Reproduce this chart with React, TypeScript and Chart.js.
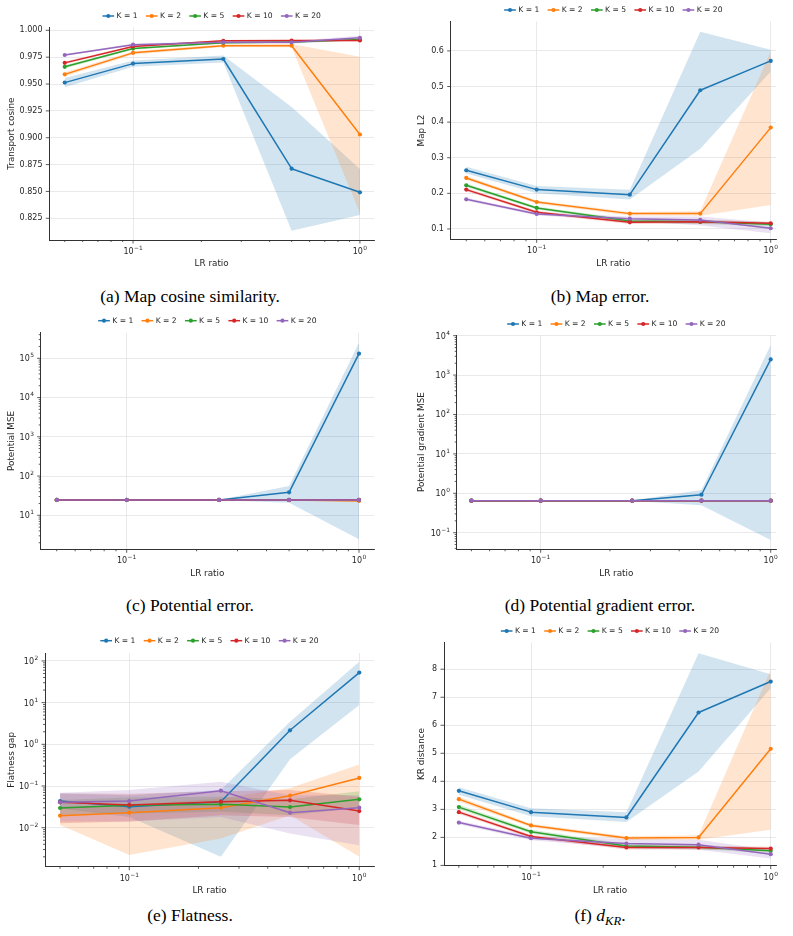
import React, { useEffect, useRef } from 'react';
import { Chart, registerables } from 'chart.js';

Chart.register(...registerables);

// ---------------------------------------------------------------------------
// Shared series definitions
// ---------------------------------------------------------------------------
const lrRatios = [0.05, 0.1, 0.25, 0.5, 1.0];
const kLabels = ['K = 1', 'K = 2', 'K = 5', 'K = 10', 'K = 20'];
const kColors = ['#1f77b4', '#ff7f0e', '#2ca02c', '#d62728', '#9467bd'];
const kBandColors = [
  'rgba(31,119,180,0.2)',
  'rgba(255,127,14,0.2)',
  'rgba(44,160,44,0.2)',
  'rgba(214,39,40,0.2)',
  'rgba(148,103,189,0.2)',
];

// x axis: decades 10^-1 and 10^0 (labels are the exponents of 10)
const xMajorTicks = [0.1, 1];
const xMajorExponents = ['\u22121', '0'];

// (a) Transport cosine
const cosineMean = [
  [0.9513, 0.969, 0.9733, 0.8712, 0.8492],
  [0.959, 0.979, 0.9857, 0.9857, 0.903],
  [0.966, 0.983, 0.9885, 0.989, 0.9915],
  [0.9697, 0.985, 0.9903, 0.9904, 0.9905],
  [0.977, 0.9866, 0.9888, 0.9888, 0.993],
];
const cosineLower = [
  [0.947, 0.966, 0.97, 0.8135, 0.828],
  [0.957, 0.9775, 0.9845, 0.9843, 0.83],
  [0.9645, 0.982, 0.9878, 0.988, 0.9905],
  [0.9685, 0.9842, 0.9896, 0.9898, 0.9895],
  [0.976, 0.9858, 0.9875, 0.9875, 0.991],
];
const cosineUpper = [
  [0.9555, 0.972, 0.9765, 0.9285, 0.871],
  [0.961, 0.9805, 0.987, 0.9872, 0.9755],
  [0.9675, 0.984, 0.9892, 0.99, 0.9925],
  [0.971, 0.9858, 0.991, 0.991, 0.9915],
  [0.978, 0.9874, 0.99, 0.99, 0.995],
];
const cosineTicks = [0.825, 0.85, 0.875, 0.9, 0.925, 0.95, 0.975, 1.0];
const cosineTickLabels = ['0.825', '0.850', '0.875', '0.900', '0.925', '0.950', '0.975', '1.000'];

// (b) Map L2
const mapL2Mean = [
  [0.2648, 0.2105, 0.1964, 0.4895, 0.5719],
  [0.2433, 0.1758, 0.1431, 0.1431, 0.3846],
  [0.2227, 0.159, 0.1225, 0.12, 0.113],
  [0.2105, 0.1468, 0.1187, 0.1206, 0.116],
  [0.1833, 0.142, 0.129, 0.1253, 0.102],
];
const mapL2Lower = [
  [0.256, 0.2, 0.183, 0.325, 0.542],
  [0.238, 0.171, 0.138, 0.137, 0.1674],
  [0.218, 0.155, 0.118, 0.114, 0.107],
  [0.206, 0.143, 0.114, 0.115, 0.112],
  [0.179, 0.138, 0.123, 0.11, 0.088],
];
const mapL2Upper = [
  [0.275, 0.221, 0.21, 0.654, 0.603],
  [0.249, 0.18, 0.148, 0.15, 0.598],
  [0.228, 0.163, 0.127, 0.126, 0.119],
  [0.215, 0.151, 0.123, 0.126, 0.12],
  [0.188, 0.146, 0.135, 0.135, 0.118],
];
const mapL2Ticks = [0.1, 0.2, 0.3, 0.4, 0.5, 0.6];
const mapL2TickLabels = ['0.1', '0.2', '0.3', '0.4', '0.5', '0.6'];

// (c) Potential MSE
const potMean = [
  [24.6, 24.6, 24.6, 38.5, 131000],
  [24.4, 24.4, 24.4, 24.4, 23.2],
  [24.6, 24.6, 24.6, 24.6, 24.6],
  [24.6, 24.6, 24.6, 24.6, 24.8],
  [24.6, 24.6, 24.6, 24.6, 24.6],
];
const potLower = [
  [24.2, 24.2, 24.2, 21.0, 2.45],
  [24.0, 24.0, 24.0, 24.0, 22.5],
  [24.1, 24.1, 24.1, 24.1, 24.0],
  [24.1, 24.1, 24.1, 24.1, 24.2],
  [24.1, 24.1, 24.1, 24.1, 24.0],
];
const potUpper = [
  [25.0, 25.0, 25.0, 55.8, 250000],
  [24.8, 24.8, 24.8, 24.8, 24.0],
  [25.1, 25.1, 25.1, 25.1, 25.2],
  [25.1, 25.1, 25.1, 25.1, 25.4],
  [25.1, 25.1, 25.1, 25.1, 25.2],
];
const potTicks = [10, 100, 1000, 10000, 100000];
const potTickExponents = ['1', '2', '3', '4', '5'];

// (d) Potential gradient MSE
const gradMean = [
  [0.649, 0.649, 0.649, 0.92, 2500],
  [0.648, 0.648, 0.648, 0.648, 0.647],
  [0.649, 0.649, 0.649, 0.649, 0.649],
  [0.649, 0.649, 0.649, 0.65, 0.65],
  [0.649, 0.649, 0.649, 0.649, 0.649],
];
const gradLower = [
  [0.64, 0.64, 0.64, 0.5, 0.065],
  [0.64, 0.64, 0.64, 0.64, 0.635],
  [0.64, 0.64, 0.64, 0.64, 0.64],
  [0.64, 0.64, 0.64, 0.64, 0.64],
  [0.64, 0.64, 0.64, 0.64, 0.64],
];
const gradUpper = [
  [0.66, 0.66, 0.66, 1.21, 5800],
  [0.657, 0.657, 0.657, 0.657, 0.66],
  [0.658, 0.658, 0.658, 0.658, 0.658],
  [0.658, 0.658, 0.658, 0.66, 0.66],
  [0.658, 0.658, 0.658, 0.658, 0.658],
];
const gradTicks = [0.1, 1, 10, 100, 1000, 10000];
const gradTickExponents = ['\u22121', '0', '1', '2', '3', '4'];

// (e) Flatness gap
const flatMean = [
  [0.0437, 0.0319, 0.042, 2.17, 52.5],
  [0.0194, 0.0229, 0.03, 0.0586, 0.156],
  [0.0297, 0.0344, 0.0363, 0.0313, 0.0479],
  [0.0406, 0.035, 0.042, 0.0453, 0.0251],
  [0.0406, 0.0437, 0.0773, 0.0229, 0.0302],
];
const flatLower = [
  [0.029, 0.018, 0.002, 0.44, 8.8],
  [0.0116, 0.0022, 0.0055, 0.02, 0.002],
  [0.02, 0.022, 0.024, 0.02, 0.03],
  [0.0127, 0.014, 0.02, 0.018, 0.0116],
  [0.014, 0.014, 0.018, 0.0073, 0.0038],
];
const flatUpper = [
  [0.066, 0.06, 0.08, 3.5, 96],
  [0.032, 0.035, 0.05, 0.09, 0.33],
  [0.046, 0.053, 0.055, 0.048, 0.075],
  [0.067, 0.065, 0.075, 0.08, 0.055],
  [0.069, 0.08, 0.127, 0.06, 0.06],
];
const flatTicks = [0.01, 0.1, 1, 10, 100];
const flatTickExponents = ['\u22122', '\u22121', '0', '1', '2'];

// (f) KR distance
const krMean = [
  [3.662, 2.901, 2.711, 6.455, 7.56],
  [3.365, 2.426, 1.974, 1.998, 5.16],
  [3.08, 2.2, 1.69, 1.65, 1.52],
  [2.9, 2.03, 1.64, 1.64, 1.6],
  [2.53, 1.97, 1.78, 1.74, 1.4],
];
const krLower = [
  [3.52, 2.75, 2.55, 4.35, 7.32],
  [3.28, 2.36, 1.91, 1.92, 2.27],
  [3.0, 2.13, 1.62, 1.58, 1.44],
  [2.83, 1.97, 1.57, 1.57, 1.53],
  [2.47, 1.9, 1.62, 1.56, 1.25],
];
const krUpper = [
  [3.79, 3.04, 2.9, 8.57, 7.82],
  [3.45, 2.49, 2.04, 2.08, 7.98],
  [3.16, 2.27, 1.76, 1.72, 1.6],
  [2.97, 2.09, 1.71, 1.71, 1.67],
  [2.59, 2.04, 1.94, 1.92, 1.55],
];
const krTicks = [1, 2, 3, 4, 5, 6, 7, 8];
const krTickLabels = ['1', '2', '3', '4', '5', '6', '7', '8'];

// ---------------------------------------------------------------------------
// Styling
// ---------------------------------------------------------------------------
const FONT = '"DejaVu Sans", sans-serif';
const TICK_SIZE = 8;
const SUP_SIZE = 5.9;
const TITLE_SIZE = 8.8;
const LEGEND_SIZE = 7.6;
const INK = '#262626';
const SPINE = '#333333';
const GRID = '#e3e3e6';
const Y_LABEL_GAP = 6.8;
const X_LABEL_CENTER = 11; // distance below the spine to the digit centre

type Box = { left: number; top: number; right: number; bottom: number };

interface PanelSpec {
  yLabel: string;
  yType: 'linear' | 'logarithmic';
  yMin: number;
  yMax: number;
  yTicks: number[];
  yTickLabels: string[]; // plain labels (linear) or exponents of 10 (log)
  xMinExp: number;
  xMaxExp: number;
  mean: number[][];
  lower: number[][];
  upper: number[][];
  area: Box;
  yTitleX: number;
  xTitleY: number;
  legendY: number;
  colRight: number;
  caption: React.ReactNode;
  captionX: number;
  captionY: number;
}

function logMinors(min: number, max: number): number[] {
  const out: number[] = [];
  for (let e = Math.floor(Math.log10(min)); e <= Math.ceil(Math.log10(max)); e++) {
    for (let m = 2; m <= 9; m++) {
      const v = m * Math.pow(10, e);
      if (v >= min && v <= max) out.push(v);
    }
  }
  return out;
}

function matches(v: number, list: number[]): number {
  return list.findIndex((m) => Math.abs(v - m) <= 1e-9 * Math.max(1e-12, Math.abs(m)));
}

const legendPlugin = {
  id: 'kLegend',
  afterDraw(chart: any, _args: any, opts: any) {
    const { ctx, chartArea } = chart;
    ctx.save();
    ctx.font = `${LEGEND_SIZE}px ${FONT}`;
    const handle = 11.7;
    const gapText = 2.4;
    const gapItem = 8.3;
    const widths = kLabels.map((l) => ctx.measureText(l).width);
    const total =
      widths.reduce((a, w) => a + handle + gapText + w, 0) + gapItem * (kLabels.length - 1);
    let x = (chartArea.left + chartArea.right) / 2 - total / 2;
    const y = opts.y;
    kLabels.forEach((label, i) => {
      ctx.strokeStyle = kColors[i];
      ctx.lineWidth = 1.5;
      ctx.beginPath();
      ctx.moveTo(x, y);
      ctx.lineTo(x + handle, y);
      ctx.stroke();
      ctx.fillStyle = kColors[i];
      ctx.beginPath();
      ctx.arc(x + handle / 2, y, 2.1, 0, Math.PI * 2);
      ctx.fill();
      ctx.fillStyle = INK;
      ctx.textAlign = 'left';
      ctx.textBaseline = 'middle';
      ctx.fillText(label, x + handle + gapText, y + 0.3);
      x += handle + gapText + widths[i] + gapItem;
    });
    ctx.restore();
  },
};

// Short outward tick marks on the two spines (longer on labelled ticks)
const tickMarkPlugin = {
  id: 'tickMarks',
  afterDraw(chart: any, _args: any, opts: any) {
    const { ctx, chartArea, scales } = chart;
    ctx.save();
    ctx.strokeStyle = SPINE;
    ctx.lineWidth = 0.8;
    ctx.beginPath();
    for (const t of scales.x.ticks) {
      const px = scales.x.getPixelForValue(t.value);
      const len = matches(t.value, opts.xMajor) >= 0 ? 3.5 : 2;
      ctx.moveTo(px, chartArea.bottom);
      ctx.lineTo(px, chartArea.bottom + len);
    }
    for (const t of scales.y.ticks) {
      const py = scales.y.getPixelForValue(t.value);
      const len = matches(t.value, opts.yMajor) >= 0 ? 3.5 : 2;
      ctx.moveTo(chartArea.left, py);
      ctx.lineTo(chartArea.left - len, py);
    }
    ctx.stroke();
    ctx.restore();
  },
};

// "10" with a raised exponent, for the logarithmic axes
const powerLabelPlugin = {
  id: 'powerLabels',
  afterDraw(chart: any, _args: any, opts: any) {
    const { ctx, chartArea, scales } = chart;
    ctx.save();
    ctx.fillStyle = INK;
    ctx.textBaseline = 'alphabetic';
    ctx.textAlign = 'left';
    const baseFont = `${TICK_SIZE}px ${FONT}`;
    const supFont = `${SUP_SIZE}px ${FONT}`;
    const widthOf = (exp: string) => {
      ctx.font = baseFont;
      const a = ctx.measureText('10').width;
      ctx.font = supFont;
      const b = ctx.measureText(exp).width;
      return { a, b };
    };
    const draw = (exp: string, left: number, digitCenter: number) => {
      const { a } = widthOf(exp);
      const baseline = digitCenter + TICK_SIZE * 0.365;
      ctx.font = baseFont;
      ctx.fillText('10', left, baseline);
      ctx.font = supFont;
      ctx.fillText(exp, left + a + 0.4, baseline - TICK_SIZE * 0.5);
    };
    opts.xTicks.forEach((v: number, i: number) => {
      const exp = opts.xExps[i];
      const { a, b } = widthOf(exp);
      const px = scales.x.getPixelForValue(v);
      draw(exp, px - (a + b + 0.4) / 2, chartArea.bottom + X_LABEL_CENTER);
    });
    if (opts.yLog) {
      opts.yTicks.forEach((v: number, i: number) => {
        const exp = opts.yExps[i];
        const { a, b } = widthOf(exp);
        const py = scales.y.getPixelForValue(v);
        draw(exp, chartArea.left - Y_LABEL_GAP - (a + b + 0.4), py);
      });
    }
    ctx.restore();
  },
};

function geometry(p: PanelSpec) {
  const lh = TITLE_SIZE * 1.2;
  const x0 = Math.floor(p.yTitleX - lh / 2);
  const y0 = Math.floor(p.legendY - 10);
  const x1 = p.colRight;
  const y1 = Math.ceil(p.xTitleY + lh / 2);
  return {
    x: x0,
    y: y0,
    w: x1 - x0,
    h: y1 - y0,
    padTop: p.area.top - y0,
    padRight: x1 - p.area.right,
    yAxisWidth: p.area.left - x0,
    xAxisHeight: y1 - p.area.bottom,
    yTitlePad: p.yTitleX - lh / 2 - x0,
    xTitlePad: y1 - (p.xTitleY + lh / 2),
    legendY: p.legendY - y0,
  };
}

function buildDatasets(p: PanelSpec) {
  const pts = (arr: number[]) => lrRatios.map((x, j) => ({ x, y: arr[j] }));
  const sets: any[] = [];
  kLabels.forEach((label, i) => {
    sets.push({
      label: `${label} lower`,
      data: pts(p.lower[i]),
      borderColor: 'rgba(0,0,0,0)',
      borderWidth: 0,
      pointRadius: 0,
      fill: false,
      order: 20 - i,
    });
    sets.push({
      label: `${label} upper`,
      data: pts(p.upper[i]),
      borderColor: 'rgba(0,0,0,0)',
      backgroundColor: kBandColors[i],
      borderWidth: 0,
      pointRadius: 0,
      fill: '-1',
      order: 20 - i,
    });
  });
  kLabels.forEach((label, i) => {
    sets.push({
      label,
      data: pts(p.mean[i]),
      borderColor: kColors[i],
      backgroundColor: kColors[i],
      borderWidth: 1.5,
      borderJoinStyle: 'round',
      pointRadius: 2.1,
      pointBorderWidth: 0,
      pointBackgroundColor: kColors[i],
      fill: false,
      order: 10 - i,
    });
  });
  return sets;
}

function Panel({ spec }: { spec: PanelSpec }) {
  const ref = useRef<HTMLCanvasElement | null>(null);
  const g = geometry(spec);
  const yLog = spec.yType === 'logarithmic';

  useEffect(() => {
    if (!ref.current) return;
    const xMin = Math.pow(10, spec.xMinExp);
    const xMax = Math.pow(10, spec.xMaxExp);
    const xAll = [...xMajorTicks, ...logMinors(xMin, xMax)].sort((a, b) => a - b);
    const yMinor = yLog ? logMinors(spec.yMin, spec.yMax) : [];
    const yAll = [...spec.yTicks, ...yMinor].sort((a, b) => a - b);

    const chart = new Chart(ref.current, {
      type: 'line',
      data: { datasets: buildDatasets(spec) },
      plugins: [legendPlugin, tickMarkPlugin, powerLabelPlugin],
      options: {
        animation: false,
        responsive: false,
        events: [],
        layout: {
          autoPadding: false,
          padding: { left: 0, top: g.padTop, right: g.padRight, bottom: 0 },
        },
        elements: { line: { tension: 0 } },
        plugins: {
          legend: { display: false },
          tooltip: { enabled: false },
          kLegend: { y: g.legendY },
          tickMarks: { xMajor: xMajorTicks, yMajor: spec.yTicks },
          powerLabels: {
            xTicks: xMajorTicks,
            xExps: xMajorExponents,
            yLog,
            yTicks: spec.yTicks,
            yExps: spec.yTickLabels,
          },
        } as any,
        scales: {
          x: {
            type: 'logarithmic',
            min: xMin,
            max: xMax,
            bounds: 'data',
            afterBuildTicks: (s: any) => {
              s.ticks = xAll.map((v) => ({ value: v }));
            },
            afterFit: (s: any) => {
              s.height = g.xAxisHeight;
            },
            ticks: { display: false, autoSkip: false, maxRotation: 0, minRotation: 0 },
            grid: {
              drawTicks: false,
              lineWidth: 0.8,
              color: (c: any) =>
                c.tick && matches(c.tick.value, xMajorTicks) >= 0 ? GRID : 'rgba(0,0,0,0)',
            },
            border: { display: true, color: SPINE, width: 1 },
            title: {
              display: true,
              text: 'LR ratio',
              color: INK,
              font: { family: FONT, size: TITLE_SIZE },
              padding: { top: 0, bottom: g.xTitlePad },
            },
          },
          y: {
            type: spec.yType,
            min: spec.yMin,
            max: spec.yMax,
            bounds: 'data',
            afterBuildTicks: (s: any) => {
              s.ticks = yAll.map((v) => ({ value: v }));
            },
            afterFit: (s: any) => {
              s.width = g.yAxisWidth;
            },
            ticks: {
              display: !yLog,
              autoSkip: false,
              padding: Y_LABEL_GAP,
              color: INK,
              font: { family: FONT, size: TICK_SIZE },
              callback: (v: any) => {
                const k = matches(Number(v), spec.yTicks);
                return k >= 0 ? spec.yTickLabels[k] : '';
              },
            },
            grid: {
              drawTicks: false,
              lineWidth: 0.8,
              color: (c: any) =>
                c.tick && matches(c.tick.value, spec.yTicks) >= 0 ? GRID : 'rgba(0,0,0,0)',
            },
            border: { display: true, color: SPINE, width: 1 },
            title: {
              display: true,
              text: spec.yLabel,
              color: INK,
              font: { family: FONT, size: TITLE_SIZE },
              padding: { top: g.yTitlePad, bottom: 0 },
            },
          },
        } as any,
      },
    } as any);
    return () => chart.destroy();
  }, []);

  return (
    <>
      <canvas
        ref={ref}
        width={g.w}
        height={g.h}
        style={{ position: 'absolute', left: g.x, top: g.y, width: g.w, height: g.h }}
      />
      <div
        style={{
          position: 'absolute',
          left: spec.captionX - 160,
          top: spec.captionY - 11,
          width: 320,
          height: 22,
          lineHeight: '22px',
          textAlign: 'center',
          fontFamily: '"Liberation Serif", "Times New Roman", serif',
          fontSize: 17.5,
          color: '#000',
          whiteSpace: 'nowrap',
        }}
      >
        {spec.caption}
      </div>
    </>
  );
}

const panels: PanelSpec[] = [
  {
    yLabel: 'Transport cosine',
    yType: 'linear',
    yMin: 0.8048,
    yMax: 1.0028,
    yTicks: cosineTicks,
    yTickLabels: cosineTickLabels,
    xMinExp: -1.369,
    xMaxExp: 0.062,
    mean: cosineMean,
    lower: cosineLower,
    upper: cosineUpper,
    area: { left: 49.3, top: 27.3, right: 374, bottom: 240 },
    yTitleX: 11.7,
    xTitleY: 263.3,
    legendY: 16,
    colRight: 396,
    caption: '(a) Map cosine similarity.',
    captionX: 190,
    captionY: 296,
  },
  {
    yLabel: 'Map L2',
    yType: 'linear',
    yMin: 0.071,
    yMax: 0.682,
    yTicks: mapL2Ticks,
    yTickLabels: mapL2TickLabels,
    xMinExp: -1.3675,
    xMaxExp: 0.0226,
    mean: mapL2Mean,
    lower: mapL2Lower,
    upper: mapL2Upper,
    area: { left: 450.7, top: 21.7, right: 776, bottom: 239.3 },
    yTitleX: 421.7,
    xTitleY: 263.3,
    legendY: 10,
    colRight: 793,
    caption: '(b) Map error.',
    captionX: 600,
    captionY: 296,
  },
  {
    yLabel: 'Potential MSE',
    yType: 'logarithmic',
    yMin: 1.36,
    yMax: 449000,
    yTicks: potTicks,
    yTickLabels: potTickExponents,
    xMinExp: -1.37,
    xMaxExp: 0.0646,
    mean: potMean,
    lower: potLower,
    upper: potUpper,
    area: { left: 40.7, top: 332.7, right: 374, bottom: 549.3 },
    yTitleX: 11.7,
    xTitleY: 573.3,
    legendY: 320.7,
    colRight: 396,
    caption: '(c) Potential error.',
    captionX: 190,
    captionY: 605,
  },
  {
    yLabel: 'Potential gradient MSE',
    yType: 'logarithmic',
    yMin: 0.0379,
    yMax: 10400,
    yTicks: gradTicks,
    yTickLabels: gradTickExponents,
    xMinExp: -1.365,
    xMaxExp: 0.023,
    mean: gradMean,
    lower: gradLower,
    upper: gradUpper,
    area: { left: 456.7, top: 335, right: 776, bottom: 549.3 },
    yTitleX: 421.7,
    xTitleY: 573.3,
    legendY: 324,
    colRight: 793,
    caption: '(d) Potential gradient error.',
    captionX: 600,
    captionY: 605,
  },
  {
    yLabel: 'Flatness gap',
    yType: 'logarithmic',
    yMin: 0.00116,
    yMax: 155,
    yTicks: flatTicks,
    yTickLabels: flatTickExponents,
    xMinExp: -1.3665,
    xMaxExp: 0.064,
    mean: flatMean,
    lower: flatLower,
    upper: flatUpper,
    area: { left: 45, top: 653, right: 374, bottom: 866.7 },
    yTitleX: 11.7,
    xTitleY: 890.7,
    legendY: 640.7,
    colRight: 396,
    caption: '(e) Flatness.',
    captionX: 190,
    captionY: 915,
  },
  {
    yLabel: 'KR distance',
    yType: 'linear',
    yMin: 0.99,
    yMax: 8.96,
    yTicks: krTicks,
    yTickLabels: krTickLabels,
    xMinExp: -1.363,
    xMaxExp: 0.022,
    mean: krMean,
    lower: krLower,
    upper: krUpper,
    area: { left: 444, top: 642.3, right: 776, bottom: 865.7 },
    yTitleX: 421.7,
    xTitleY: 890.7,
    legendY: 631,
    colRight: 793,
    caption: (
      <>
        (f) <span style={{ fontStyle: 'italic' }}>d</span>
        <span
          style={{
            fontStyle: 'italic',
            fontSize: '0.72em',
            position: 'relative',
            top: '0.28em',
          }}
        >
          KR
        </span>
        .
      </>
    ),
    captionX: 600,
    captionY: 915,
  },
];

export default function App() {
  return (
    <div
      style={{
        position: 'absolute',
        left: 0,
        top: 0,
        width: 793,
        height: 936,
        background: '#ffffff',
        overflow: 'hidden',
      }}
    >
      {panels.map((p, i) => (
        <Panel key={i} spec={p} />
      ))}
    </div>
  );
}
